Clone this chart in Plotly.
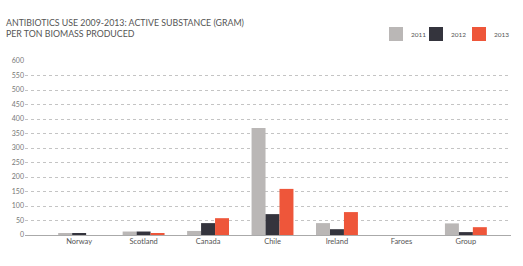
import plotly.graph_objects as go

# Antibiotics use, active substance (gram) per ton biomass produced
regions = ["Norway", "Scotland", "Canada", "Chile", "Ireland", "Faroes", "Group"]
years = ["2011", "2012", "2013"]
use_2011 = [5, 12, 14, 369, 41, 0, 40]
use_2012 = [5, 12, 41, 72, 20, 0, 10]
use_2013 = [0, 6, 58, 159, 79, 0, 27]
y_ticks = list(range(0, 601, 50))

colors = ["#bab7b6", "#34343d", "#ee563a"]
series = [use_2011, use_2012, use_2013]

W, H = 523, 266
L, R, T, B = 25, 12, 61, 31
PW, PH = W - L - R, H - T - B


def px_x(x):
    return (x - L) / PW


def px_y(y):
    return (H - B - y) / PH


fig = go.Figure()
for name, vals, col in zip(years, series, colors):
    fig.add_trace(go.Bar(
        x=regions, y=vals, name=name,
        marker=dict(color=col, line=dict(width=0)),
    ))

# legend swatches drawn as squares with labels beside them
legend_x = [389, 429, 472]
for x0, name, col in zip(legend_x, years, colors):
    fig.add_shape(
        type="rect", xref="paper", yref="paper",
        x0=px_x(x0), x1=px_x(x0 + 14), y0=px_y(41), y1=px_y(27),
        fillcolor=col, line=dict(width=0),
    )
    fig.add_annotation(
        text=name, xref="paper", yref="paper",
        x=px_x(x0 + 20), y=px_y(34), xanchor="left", yanchor="middle",
        showarrow=False, font=dict(size=6.5, color="#555"),
    )

fig.update_layout(
    width=W, height=H,
    margin=dict(l=L, r=R, t=T, b=B),
    paper_bgcolor="white", plot_bgcolor="white",
    barmode="group", bargap=0.35, bargroupgap=0,
    font=dict(family="Lato, sans-serif", color="#666", size=8),
    title=dict(
        text="ANTIBIOTICS USE 2009-2013: ACTIVE SUBSTANCE (GRAM)<br>PER TON BIOMASS PRODUCED",
        x=6 / W, xanchor="left", xref="container",
        y=1 - 26 / H, yanchor="top", yref="container",
        font=dict(size=8.8, color="#555"),
    ),
    showlegend=False,
)

fig.update_xaxes(
    type="category", range=[-0.84, 6.70],
    showgrid=False, showline=False, ticks="",
    tickfont=dict(size=7.5, color="#555"),
)
fig.update_yaxes(
    range=[0, 600], tickvals=y_ticks,
    showgrid=True, gridcolor="#c4c4c4", griddash="dot", gridwidth=1,
    zeroline=True, zerolinecolor="#aaaaaa", zerolinewidth=1,
    showline=False, ticks="",
    tickfont=dict(size=7, color="#777"),
)

fig.write_html("out.html")
